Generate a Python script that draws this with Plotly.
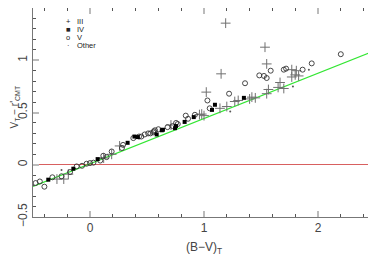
import plotly.graph_objects as go

# Class III giants (+)
iii_x = [-0.29, -0.23, -0.19, 0.12, 0.19, 0.26, 0.71, 0.96, 0.98, 1.00, 1.02, 1.14, 1.20,
         1.19, 1.15, 1.27, 1.30, 1.40, 1.42, 1.45, 1.535, 1.55, 1.55, 1.565, 1.65, 1.667,
         1.70, 1.77, 1.80, 1.77, 1.81, 1.83]
iii_y = [-0.137, -0.137, -0.09, 0.064, 0.10, 0.18, 0.38, 0.48, 0.485, 0.47, 0.695, 0.54, 0.557,
         1.355, 0.87, 0.605, 0.615, 0.63, 0.647, 0.64, 1.125, 0.965, 0.68, 0.72, 0.74, 0.787,
         0.73, 0.84, 0.86, 0.91, 0.90, 0.85]

# Class IV (filled squares)
iv_x = [-0.366, -0.146, 0.067, 0.33, 0.42, 0.39, 0.585, 0.63, 0.64, 0.746, 0.754, 0.83,
        0.91, 1.07, 1.096, 1.35]
iv_y = [-0.143, -0.038, 0.054, 0.21, 0.265, 0.27, 0.29, 0.33, 0.335, 0.35, 0.37, 0.41,
        0.456, 0.525, 0.574, 0.64]

# Class V dwarfs (open circles)
v_x = [-0.477, -0.44, -0.40, -0.33, -0.25, -0.175, -0.117, -0.07, -0.03, 0.0, 0.03, 0.09,
       0.146, 0.117, 0.19, 0.28, 0.29, 0.38, 0.43, 0.45, 0.48, 0.51, 0.53, 0.555, 0.57,
       0.60, 0.56, 0.68, 0.725, 0.755, 0.77, 0.84, 0.86, 0.92, 1.03, 1.05, 1.22, 1.36,
       1.485, 1.526, 1.55, 1.585, 1.70, 1.72, 1.865, 1.945, 2.20]
v_y = [-0.175, -0.16, -0.21, -0.12, -0.11, -0.07, -0.016, -0.01, 0.01, 0.016, 0.02, 0.04,
       0.073, 0.086, 0.127, 0.16, 0.19, 0.255, 0.27, 0.27, 0.29, 0.30, 0.30, 0.31, 0.33,
       0.34, 0.32, 0.36, 0.37, 0.40, 0.39, 0.47, 0.44, 0.478, 0.615, 0.54, 0.68, 0.78,
       0.855, 0.85, 0.83, 0.90, 0.91, 0.92, 0.91, 0.97, 1.058]

# Other (dots)
oth_x = [-0.25, 1.23, 1.78, 1.92]
oth_y = [-0.05, 0.51, 0.75, 0.91]

# Fitted relation
fit_slope = 0.433
fit_intercept = 0.01
fit_x = [-0.5, 2.5]

legend_labels = ["III", "IV", "V", "Other"]
legend_symbols = ["+", "■", "o", "·"]

fig = go.Figure()
fig.add_trace(go.Scatter(x=fit_x, y=[fit_slope * x + fit_intercept for x in fit_x],
                         mode="lines", line=dict(color="#33e633", width=1.3),
                         showlegend=False, hoverinfo="skip"))
fig.add_trace(go.Scatter(x=iii_x, y=iii_y, mode="markers", name="III",
                         marker=dict(symbol="cross-thin-open", size=7, color="#707070",
                                     line=dict(color="#707070", width=1))))
fig.add_trace(go.Scatter(x=v_x, y=v_y, mode="markers", name="V",
                         marker=dict(symbol="circle-open", size=5, color="#333333",
                                     line=dict(color="#333333", width=0.9))))
fig.add_trace(go.Scatter(x=iv_x, y=iv_y, mode="markers", name="IV",
                         marker=dict(symbol="square", size=4, color="black",
                                     line=dict(width=0))))
fig.add_trace(go.Scatter(x=oth_x, y=oth_y, mode="markers", name="Other",
                         marker=dict(symbol="circle", size=2, color="#555555")))

legend_y = [0.935, 0.897, 0.859, 0.821]
for sym, lab, ly in zip(legend_symbols, legend_labels, legend_y):
    fig.add_annotation(xref="paper", yref="paper", x=0.103, y=ly, text=sym,
                       showarrow=False, xanchor="center", yanchor="middle", borderpad=0,
                       font=dict(size=7.5, color="#222"))
    fig.add_annotation(xref="paper", yref="paper", x=0.127, y=ly, text=lab,
                       showarrow=False, xanchor="left", yanchor="middle", borderpad=0,
                       font=dict(size=7.5, color="#222"))

# y-axis title as a rotated annotation, pushed to the far left edge
fig.add_annotation(xref="paper", yref="paper", x=-0.036, y=0.527, xanchor="right",
                   yanchor="middle", textangle=-90, showarrow=False, borderpad=0,
                   borderwidth=0, text="V<sub>T</sub> − r'<sub>CMT</sub>",
                   font=dict(size=10, color="#444", family="Liberation Sans"))

axis_common = dict(showgrid=False, showline=True, linecolor="#777", linewidth=1,
                   mirror="allticks", ticks="inside", ticklen=6, tickwidth=2,
                   tickcolor="#bbbbbb", automargin=False,
                   tickfont=dict(size=12, color="#444", family="Liberation Sans"))
fig.update_xaxes(range=[-0.5, 2.5], dtick=1, tick0=0, zeroline=False,
                 minor=dict(dtick=0.2, ticks="inside", ticklen=3, tickcolor="#555",
                            tickwidth=1),
                 title=dict(text="(B−V)<sub>T</sub>", font=dict(size=12, color="#444",
                                                               family="Liberation Sans"),
                            standoff=8),
                 **axis_common)
fig.update_yaxes(range=[-0.5, 1.5], dtick=0.5, tick0=0, zeroline=True,
                 zerolinecolor="#d86060", zerolinewidth=1, tickangle=-90,
                 minor=dict(dtick=0.1, ticks="inside", ticklen=3, tickcolor="#555",
                            tickwidth=1),
                 **axis_common)
# the page body adds an 8 px offset, so margins compensate for it
fig.update_layout(width=376, height=258, margin=dict(l=25, r=9, t=0, b=49),
                  paper_bgcolor="white", plot_bgcolor="white", showlegend=False,
                  font=dict(family="Liberation Sans"))
fig.write_html("out.html")
